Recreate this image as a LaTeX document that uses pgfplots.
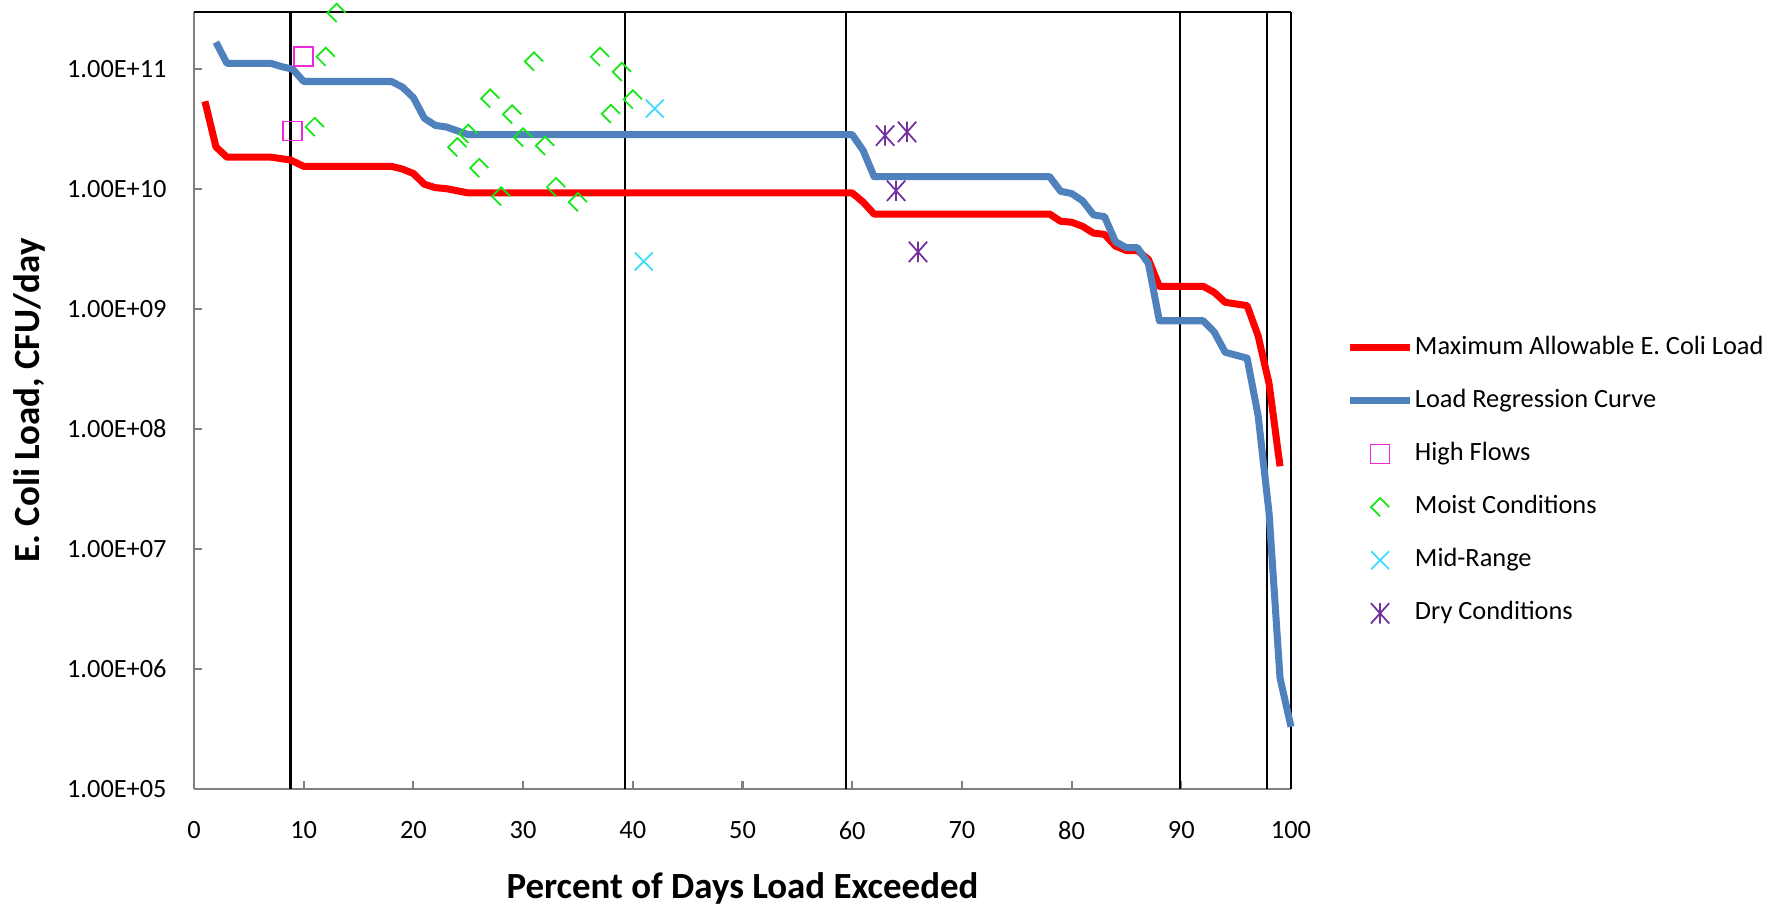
\documentclass[border=0pt]{standalone}
\usepackage{fontspec}
\setmainfont{Carlito}
\usepackage{pgfplots}
\pgfplotsset{compat=1.18}

\definecolor{loadred}{RGB}{255,0,0}
\definecolor{regblue}{RGB}{79,129,189}
\definecolor{highmag}{RGB}{240,40,220}
\definecolor{moistgreen}{RGB}{20,230,20}
\definecolor{midcyan}{RGB}{60,220,250}
\definecolor{drypurple}{RGB}{112,48,160}

% Excel-like markers
\pgfdeclareplotmark{moist}{%
  \pgfpathmoveto{\pgfqpoint{\pgfplotmarksize}{0pt}}%
  \pgfpathlineto{\pgfqpoint{0pt}{\pgfplotmarksize}}%
  \pgfpathlineto{\pgfqpoint{-\pgfplotmarksize}{0pt}}%
  \pgfpathlineto{\pgfqpoint{0pt}{-\pgfplotmarksize}}%
  \pgfusepathqstroke}
\pgfdeclareplotmark{dry}{%
  \pgfpathmoveto{\pgfqpoint{0pt}{-\pgfplotmarksize}}%
  \pgfpathlineto{\pgfqpoint{0pt}{\pgfplotmarksize}}%
  \pgfpathmoveto{\pgfqpoint{-0.9\pgfplotmarksize}{-\pgfplotmarksize}}%
  \pgfpathlineto{\pgfqpoint{0.9\pgfplotmarksize}{\pgfplotmarksize}}%
  \pgfpathmoveto{\pgfqpoint{-0.9\pgfplotmarksize}{\pgfplotmarksize}}%
  \pgfpathlineto{\pgfqpoint{0.9\pgfplotmarksize}{-\pgfplotmarksize}}%
  \pgfusepathqstroke}

\begin{document}
\begin{tikzpicture}
\useasboundingbox (0,0) rectangle (17.83,9.07);
\begin{axis}[
    at={(1.94cm,1.18cm)}, anchor=south west,
    scale only axis,
    width=10.97cm, height=7.77cm,
    xmin=0, xmax=100,
    ymode=log, ymin=1e5, ymax=3e11,
    clip=false,
    axis x line*=bottom, axis y line*=left,
    axis line style={gray, line width=0.6pt},
    tick align=inside,
    major tick length=0.08cm,
    tick style={gray, line width=0.6pt},
    xminorticks=false, yminorticks=false,
    xtick={0,10,...,100},
    ytick={1e5,1e6,1e7,1e8,1e9,1e10,1e11},
    yticklabels={1.00E+05,1.00E+06,1.00E+07,1.00E+08,1.00E+09,1.00E+10,1.00E+11},
    /pgf/number format/assume math mode=true,
    ticklabel style={font=\fontsize{7.5}{9}\selectfont, black},
    xticklabel style={yshift=-0.2cm},
    yticklabel style={xshift=-0.15cm},
    xlabel={Percent of Days Load Exceeded},
    ylabel={E. Coli Load, CFU/day},
    label style={font=\fontsize{10.5}{12}\selectfont\bfseries},
    xlabel style={at={(axis description cs:0.5,-0.128)}, anchor=center},
    ylabel style={at={(axis description cs:-0.150,0.5)}, anchor=center},
    legend style={draw=none, fill=none, inner sep=0pt,
        at={(1.05,0.397)}, anchor=west,
        font=\fontsize{7.5}{9}\selectfont,
        nodes={inner xsep=0.4pt},
        row sep=0.155cm},
    legend cell align=left,
]

% flow zone dividers
\addplot[black, line width=0.6pt, forget plot] coordinates {(8.8,1e5) (8.8,3e11)};
\addplot[black, line width=0.6pt, forget plot] coordinates {(39.3,1e5) (39.3,3e11)};
\addplot[black, line width=0.6pt, forget plot] coordinates {(59.4,1e5) (59.4,3e11)};
\addplot[black, line width=0.6pt, forget plot] coordinates {(89.9,1e5) (89.9,3e11)};
\addplot[black, line width=0.6pt, forget plot] coordinates {(97.8,1e5) (97.8,3e11)};
\addplot[black, line width=0.6pt, forget plot] coordinates {(100,1e5) (100,3e11)};
\addplot[black, line width=0.6pt, forget plot] coordinates {(0,3e11) (100,3e11)};

\addplot[loadred, line width=2pt, line join=round, no marks] coordinates {
    (1,5.4e10) (2,2.25e10) (3,1.85e10) (7,1.85e10) (8.8,1.75e10) (10,1.55e10)
    (18,1.55e10) (19,1.47e10) (20,1.35e10) (21,1.1e10) (22,1.03e10) (23,1.01e10)
    (25,9.3e9) (60,9.3e9) (61,7.8e9) (62,6.2e9) (78,6.2e9) (79,5.4e9) (80,5.3e9)
    (81,4.9e9) (82,4.3e9) (83,4.2e9) (84,3.35e9) (85,3.08e9) (86,3.08e9)
    (87,2.6e9) (88,1.55e9) (92,1.55e9) (93,1.38e9) (94,1.14e9) (96,1.07e9)
    (97,6.0e8) (98,2.4e8) (99,4.9e7)
};
\addlegendentry{Maximum Allowable E. Coli Load}

\addplot[regblue, line width=2pt, line join=round, no marks] coordinates {
    (2,1.68e11) (3,1.12e11) (7,1.12e11) (8,1.05e11) (9,1.0e11) (10,7.9e10)
    (18,7.9e10) (19,7.1e10) (20,5.8e10) (21,3.9e10) (22,3.4e10) (23,3.3e10)
    (25,2.85e10) (60,2.85e10) (61,2.1e10) (62,1.27e10) (78,1.27e10) (79,9.6e9)
    (80,9.2e9) (81,8.0e9) (82,6.1e9) (83,5.9e9) (84,3.65e9) (85,3.25e9)
    (86,3.25e9) (87,2.4e9) (88,8.0e8) (92,8.0e8) (93,6.45e8) (94,4.37e8)
    (96,3.9e8) (97,1.3e8) (98,2.0e7) (99,8.4e5) (100,3.3e5)
};
\addlegendentry{Load Regression Curve}

\addplot[only marks, mark=square, mark size=2.7pt, highmag, mark options={line width=0.5pt}] coordinates {
    (10,1.27e11) (9,3.05e10)
};
\addlegendentry{High Flows}

\addplot[only marks, mark=moist, mark size=2.6pt, moistgreen, mark options={line width=0.5pt}] coordinates {
    (13,2.95e11) (12,1.27e11) (11,3.3e10) (31,1.16e11) (37,1.27e11) (39,9.5e10)
    (40,5.6e10) (38,4.25e10) (27,5.7e10) (29,4.2e10) (25,2.9e10) (30,2.7e10)
    (32,2.3e10) (24,2.24e10) (26,1.5e10) (33,1.04e10) (28,8.7e9) (35,7.8e9)
};
\addlegendentry{Moist Conditions}

\addplot[only marks, mark=x, mark size=3.6pt, midcyan, mark options={line width=0.5pt}] coordinates {
    (42,4.7e10) (41,2.5e9)
};
\addlegendentry{Mid-Range}

\addplot[only marks, mark=dry, mark size=2.9pt, drypurple, mark options={line width=0.5pt}] coordinates {
    (63,2.8e10) (65,3.0e10) (64,9.7e9) (66,3.0e9)
};
\addlegendentry{Dry Conditions}

\end{axis}
\end{tikzpicture}
\end{document}
